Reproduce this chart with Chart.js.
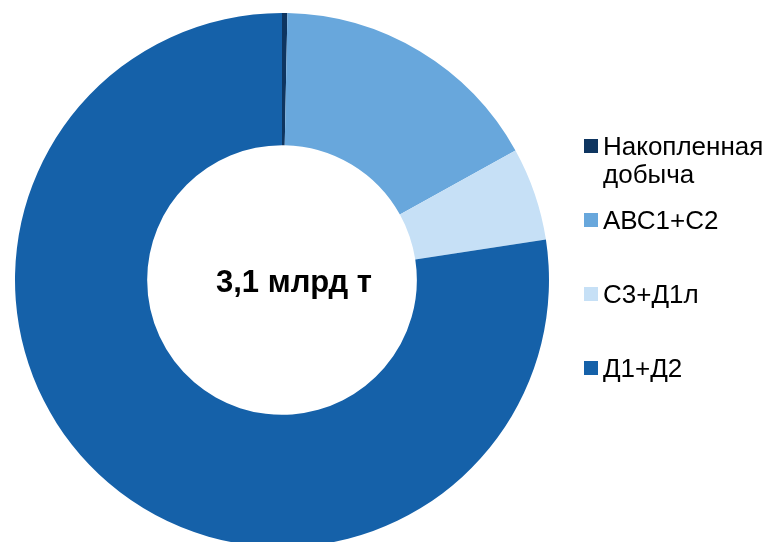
<!DOCTYPE html>
<html>
<head>
<meta charset="utf-8">
<script src="https://cdn.jsdelivr.net/npm/chart.js@4"></script>
<style>
  html, body { margin: 0; padding: 0; background: #fff; overflow: hidden; }
  #wrap { position: relative; width: 769px; height: 560px; }
</style>
</head>
<body>
<div id="wrap"><canvas id="reserves"></canvas></div>
<script>
// запасы и ресурсы, млрд т
var categories = ['Накопленная добыча', 'АВС1+С2', 'С3+Д1л', 'Д1+Д2'];
var volumes = [0.01, 0.515, 0.175, 2.40];
var sliceColors = ['#0e3560', '#68a7dc', '#c6e0f6', '#1561a9'];
var centerLabel = '3,1 млрд т';

var FONT = '"Liberation Sans", Arial, sans-serif';

// надпись в центре кольца (чуть правее центра)
var centerText = {
    id: 'centerText',
    afterDraw: function (chart) {
        var ctx = chart.ctx;
        var arc = chart.getDatasetMeta(0).data[0];
        ctx.save();
        ctx.font = 'bold 31px ' + FONT;
        ctx.fillStyle = '#000';
        ctx.textAlign = 'center';
        ctx.textBaseline = 'alphabetic';
        ctx.fillText(centerLabel, arc.x + 12, arc.y + 12);
        ctx.restore();
    }
};

// легенда справа, с переносом длинных подписей
var sideLegend = {
    id: 'sideLegend',
    afterDraw: function (chart) {
        var ctx = chart.ctx;
        var left = 584, box = 14, textX = 603, maxW = 170;
        var firstBase = 155, step = 74, lineH = 28;
        ctx.save();
        ctx.font = '26px ' + FONT;
        ctx.textBaseline = 'alphabetic';
        categories.forEach(function (name, i) {
            var base = firstBase + i * step;
            ctx.fillStyle = sliceColors[i];
            ctx.fillRect(left, base - 16, box, box);
            // разбиваем по словам
            var words = name.split(' '), lines = [], cur = '';
            words.forEach(function (w) {
                var t = cur ? cur + ' ' + w : w;
                if (cur && ctx.measureText(t).width > maxW) { lines.push(cur); cur = w; }
                else cur = t;
            });
            lines.push(cur);
            ctx.fillStyle = '#000';
            lines.forEach(function (ln, j) {
                ctx.fillText(ln, textX, base + j * lineH);
            });
        });
        ctx.restore();
    }
};

new Chart(document.getElementById('reserves'), {
    type: 'doughnut',
    data: {
        labels: categories,
        datasets: [{
            data: volumes,
            backgroundColor: sliceColors,
            borderWidth: 0
        }]
    },
    options: {
        responsive: true,
        maintainAspectRatio: false,
        animation: false,
        cutout: '50.5%',
        layout: {
            padding: { left: 15, top: 13, right: 220, bottom: 13 }
        },
        plugins: {
            legend: { display: false },
            tooltip: { enabled: false }
        }
    },
    plugins: [centerText, sideLegend]
});
</script>
</body>
</html>
